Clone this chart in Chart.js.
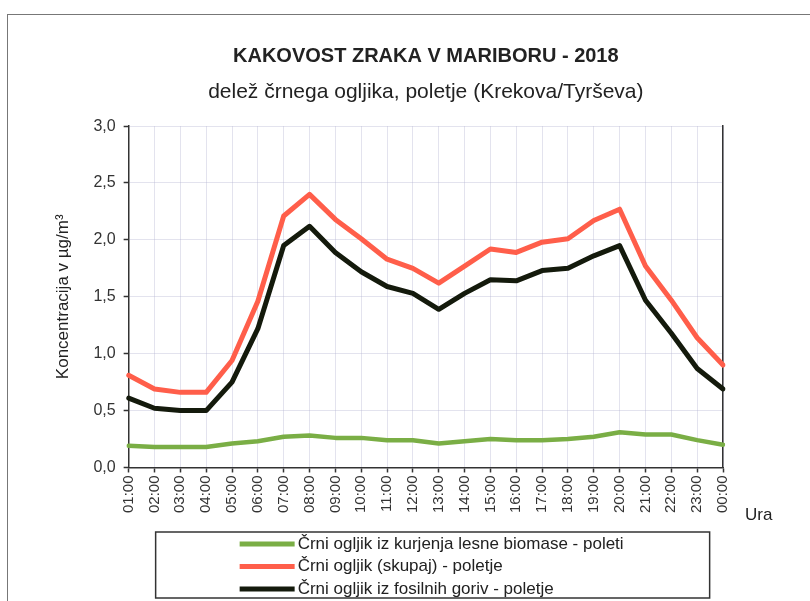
<!DOCTYPE html>
<html>
<head>
<meta charset="utf-8">
<script src="https://cdn.jsdelivr.net/npm/chart.js@4/dist/chart.umd.min.js"></script>
<style>
    html, body { margin: 0; padding: 0; background: #fff; }
    #wrap { width: 810px; height: 601px; position: relative; }
</style>
</head>
<body>
<div id="wrap"><canvas id="myChart" width="810" height="601"></canvas></div>
<script>
// data
const hours = ["01:00", "02:00", "03:00", "04:00", "05:00", "06:00", "07:00", "08:00", "09:00", "10:00", "11:00", "12:00",
    "13:00", "14:00", "15:00", "16:00", "17:00", "18:00", "19:00", "20:00", "21:00", "22:00", "23:00", "00:00"];

const biomasa = [0.19, 0.18, 0.18, 0.18, 0.21, 0.23, 0.27, 0.28, 0.26, 0.26, 0.24, 0.24,
    0.21, 0.23, 0.25, 0.24, 0.24, 0.25, 0.27, 0.31, 0.29, 0.29, 0.24, 0.20];
const skupaj = [0.81, 0.69, 0.66, 0.66, 0.94, 1.46, 2.21, 2.40, 2.18, 2.01, 1.83, 1.75,
    1.62, 1.77, 1.92, 1.89, 1.98, 2.01, 2.17, 2.27, 1.77, 1.47, 1.14, 0.90];
const fosilna = [0.61, 0.52, 0.50, 0.50, 0.75, 1.22, 1.95, 2.12, 1.89, 1.72, 1.59, 1.53,
    1.39, 1.53, 1.65, 1.64, 1.73, 1.75, 1.86, 1.95, 1.47, 1.18, 0.87, 0.69];

const seriesNames = [
    "Črni ogljik iz kurjenja lesne biomase - poleti",
    "Črni ogljik (skupaj) - poletje",
    "Črni ogljik iz fosilnih goriv - poletje",
];
const seriesColors = ["#7aae45", "#ff5e4a", "#141a0c"];

const yTicks = [0, 0.5, 1.0, 1.5, 2.0, 2.5, 3.0];

const FONT = "'Liberation Sans', Arial, sans-serif";

/* frame round the whole chart, "Ura" and the boxed legend */
const extrasPlugin = {
    id: "extras",
    beforeDraw(chart) {
        const ctx = chart.ctx;
        ctx.save();
        ctx.fillStyle = "#fff";
        ctx.fillRect(0, 0, chart.width, chart.height);
        ctx.strokeStyle = "#777";
        ctx.lineWidth = 1;
        ctx.strokeRect(7.5, 14.5, chart.width + 10, chart.height + 10);
        ctx.restore();
    },
    afterDraw(chart) {
        const ctx = chart.ctx;
        const area = chart.chartArea;
        const xs = chart.scales.x;
        ctx.save();

        // axis unit
        ctx.fillStyle = "#222";
        ctx.font = "17px " + FONT;
        ctx.textBaseline = "middle";
        ctx.textAlign = "left";
        ctx.fillText("Ura", area.right + 22, xs.top + 48);

        // legend
        const boxL = area.left + 27, boxT = xs.bottom + 16;
        const boxW = 554, boxH = 66;
        ctx.strokeStyle = "#333";
        ctx.lineWidth = 1.5;
        ctx.strokeRect(boxL, boxT, boxW, boxH);

        ctx.font = "17px " + FONT;
        chart.data.datasets.forEach((ds, i) => {
            const y = boxT + 12 + i * 22.5;
            ctx.strokeStyle = ds.borderColor;
            ctx.lineWidth = 5;
            ctx.beginPath();
            ctx.moveTo(boxL + 84, y);
            ctx.lineTo(boxL + 139, y);
            ctx.stroke();
            ctx.fillStyle = "#222";
            ctx.fillText(ds.label, boxL + 142, y);
        });
        ctx.restore();
    },
};

const ctx = document.getElementById("myChart").getContext("2d");

const data = {
    labels: hours,
    datasets: [
        { label: seriesNames[0], data: biomasa, borderColor: seriesColors[0], backgroundColor: seriesColors[0], borderWidth: 4.5 },
        { label: seriesNames[1], data: skupaj, borderColor: seriesColors[1], backgroundColor: seriesColors[1], borderWidth: 5 },
        { label: seriesNames[2], data: fosilna, borderColor: seriesColors[2], backgroundColor: seriesColors[2], borderWidth: 5 },
    ],
};

const gridStyle = {
    color: "rgba(175,175,205,0.35)",
    borderDash: [2, 5],
    tickColor: "#333",
    tickBorderDash: [],
    tickLength: 5,
    tickWidth: 1.5,
};

const config = {
    type: "line",
    data: data,
    options: {
        responsive: false,
        animation: false,
        devicePixelRatio: 1,
        elements: {
            point: { radius: 0 },
            line: { tension: 0, borderJoinStyle: "round", borderCapStyle: "round" },
        },
        layout: {
            padding: { left: 49, right: 87, top: 0, bottom: 85 },
        },
        plugins: {
            legend: { display: false },
            tooltip: { enabled: false },
            title: {
                display: true,
                text: "KAKOVOST ZRAKA V MARIBORU - 2018",
                color: "#222",
                font: { family: FONT, size: 20, weight: "bold", lineHeight: 1.1 },
                padding: { top: 45, bottom: 14 },
                fullSize: false,
            },
            subtitle: {
                display: true,
                text: "delež črnega ogljika, poletje (Krekova/Tyrševa)",
                color: "#222",
                font: { family: FONT, size: 21, lineHeight: 1.1 },
                padding: { top: 0, bottom: 22 },
                fullSize: false,
            },
        },
        scales: {
            x: {
                type: "category",
                offset: false,
                grid: Object.assign({ offset: false }, gridStyle),
                border: { display: true, color: "#333", width: 1.5 },
                ticks: {
                    color: "#333",
                    font: { family: FONT, size: 15 },
                    minRotation: 90,
                    maxRotation: 90,
                    padding: 3,
                    autoSkip: false,
                },
            },
            y: {
                min: 0,
                max: 3,
                afterBuildTicks(scale) {
                    scale.ticks = yTicks.map((v) => ({ value: v }));
                },
                grid: gridStyle,
                border: { display: true, color: "#333", width: 1.5 },
                ticks: {
                    color: "#333",
                    font: { family: FONT, size: 16 },
                    padding: 8,
                    callback: (v) => Number(v).toFixed(1).replace(".", ","),
                },
                title: {
                    display: true,
                    text: "Koncentracija v µg/m³",
                    color: "#222",
                    font: { family: FONT, size: 17 },
                    padding: { top: 4, bottom: 12 },
                },
            },
            y2: {
                position: "right",
                min: 0,
                max: 3,
                grid: { display: false, drawTicks: false },
                ticks: { display: false },
                border: { display: true, color: "#333", width: 1.5 },
            },
        },
    },
    plugins: [extrasPlugin],
};

const myChart = new Chart(ctx, config);
</script>
</body>
</html>
